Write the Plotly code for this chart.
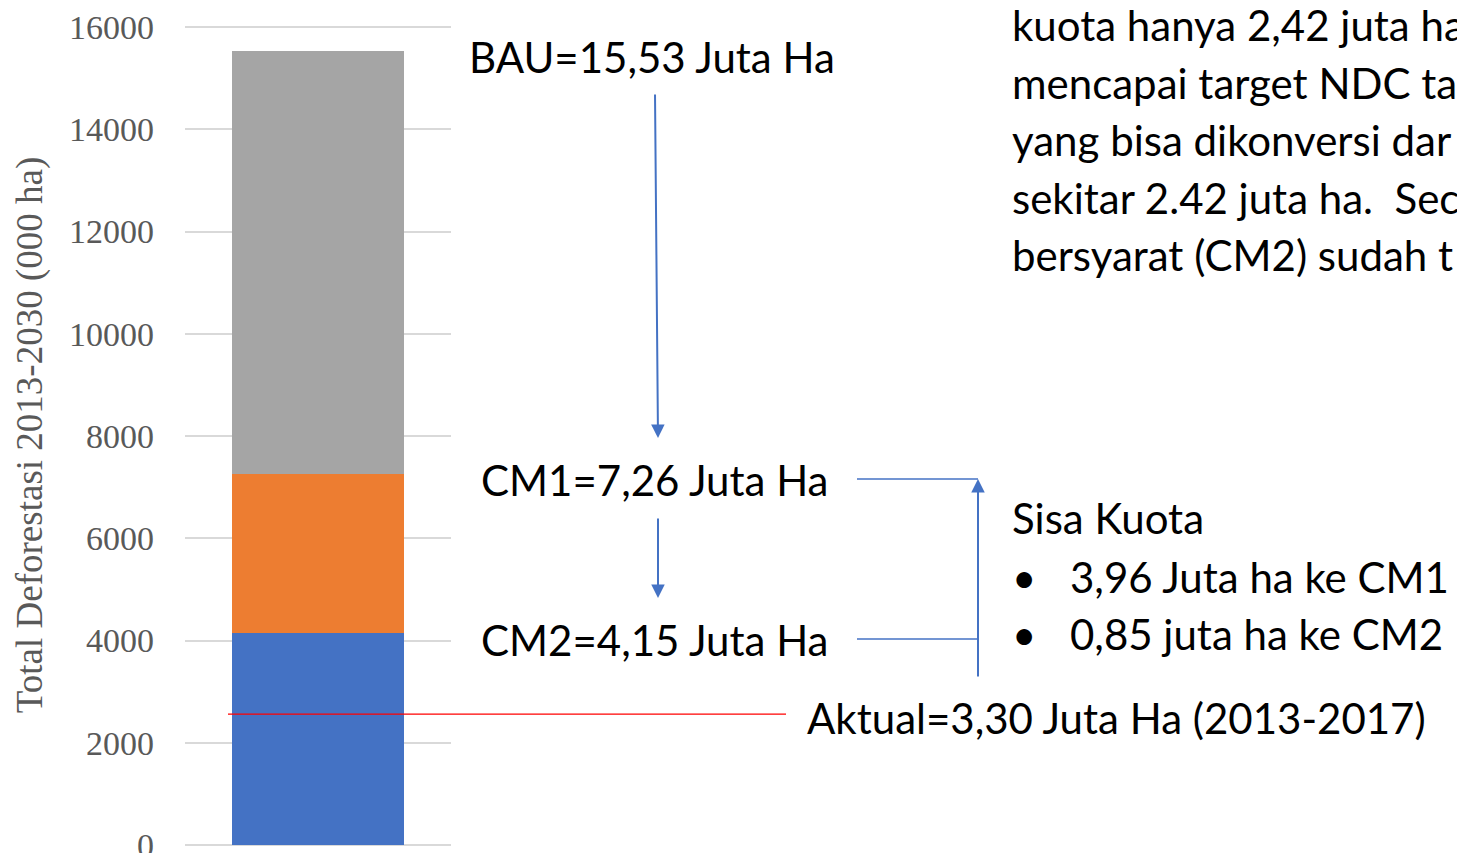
import plotly.graph_objects as go

# Data (000 ha)
SCENARIOS = ['CM2', 'CM1', 'BAU']
TOTALS = [4150, 7260, 15530]
COLORS = ['#4472C4', '#ED7D31', '#A5A5A5']
ACTUAL_LINE = 2560
Y_TICKS = [0, 2000, 4000, 6000, 8000, 10000, 12000, 14000, 16000]

LABELS = ['BAU=15,53 Juta Ha', 'CM1=7,26 Juta Ha', 'CM2=4,15 Juta Ha']
ACTUAL_LABEL = 'Aktual=3,30 Juta Ha (2013-2017)'
QUOTA_TITLE = 'Sisa Kuota'
QUOTA_ITEMS = ['3,96 Juta ha ke CM1', '0,85 juta ha ke CM2']
NOTE_LINES = [
    'kuota hanya 2,42 juta ha',
    'mencapai target NDC ta',
    'yang bisa dikonversi dar',
    'sekitar 2.42 juta ha.  Sec',
    'bersyarat (CM2) sudah t',
]

# page offset (body margin) and figure size
OFF = 8
W, H = 1465 - OFF, 853 - OFF
# plot box in page pixels
L, R, T, B = 185, 451, 27, 845
Y_MAX = 16040
T_EXT = T - (Y_MAX - 16000) * (B - T) / 16000

TEXT_FONT = dict(family='Lato, Open Sans, sans-serif', size=42, color='#000000')
SERIF = 'Liberation Serif, Times New Roman, serif'
BLUE = '#4472C4'


def px(x):
    return (x - L) / (R - L)


def py(y):
    return (B - y) / (B - T_EXT)


fig = go.Figure()
base = 0
for name, total, color in zip(SCENARIOS, TOTALS, COLORS):
    fig.add_trace(go.Bar(
        x=[''], y=[total - base], base=base, name=name,
        marker_color=color, marker_line_width=0, showlegend=False,
    ))
    base = total

annotations = []
# scenario labels
for text, (cx, cy) in zip(LABELS, [(652, 57), (655, 480), (655, 640)]):
    annotations.append(dict(x=px(cx), y=py(cy), xref='paper', yref='paper', text=text,
                            showarrow=False, xanchor='center', yanchor='middle', font=TEXT_FONT))

# arrows (head position, tail offset)
for hx, hy, ax, ay in [(658, 438, -3, -345), (658, 598, 0, -81), (978, 479, 0, 199)]:
    annotations.append(dict(x=px(hx), y=py(hy), xref='paper', yref='paper', text='',
                            showarrow=True, ax=ax, ay=ay, axref='pixel', ayref='pixel',
                            arrowhead=2, arrowsize=1.35, arrowwidth=2, arrowcolor=BLUE))

annotations.append(dict(x=px(1010), y=py(518), xref='paper', yref='paper', text=QUOTA_TITLE,
                        showarrow=False, xanchor='left', yanchor='middle', font=TEXT_FONT))
for item, cy in zip(QUOTA_ITEMS, [577, 634]):
    annotations.append(dict(x=px(1010), y=py(cy), xref='paper', yref='paper', text='•',
                            showarrow=False, xanchor='left', yanchor='middle', font=TEXT_FONT))
    annotations.append(dict(x=px(1068), y=py(cy), xref='paper', yref='paper', text=item,
                            showarrow=False, xanchor='left', yanchor='middle', font=TEXT_FONT))

annotations.append(dict(x=px(805), y=py(718), xref='paper', yref='paper', text=ACTUAL_LABEL,
                        showarrow=False, xanchor='left', yanchor='middle', font=TEXT_FONT))

for line, cy in zip(NOTE_LINES, [25, 83, 140, 198, 255]):
    annotations.append(dict(x=px(1010), y=py(cy), xref='paper', yref='paper', text=line,
                            showarrow=False, xanchor='left', yanchor='middle', font=TEXT_FONT))

shapes = [
    # connectors to the quota arrow
    dict(type='line', xref='paper', yref='paper', x0=px(857), x1=px(978), y0=py(479), y1=py(479),
         line=dict(color=BLUE, width=1.5)),
    dict(type='line', xref='paper', yref='paper', x0=px(857), x1=px(978), y0=py(639), y1=py(639),
         line=dict(color=BLUE, width=1.5)),
    # actual deforestation line
    dict(type='line', xref='paper', yref='y', x0=px(228), x1=px(786), y0=ACTUAL_LINE, y1=ACTUAL_LINE,
         line=dict(color='#FF0000', width=1.2), layer='above'),
]

fig.update_layout(
    width=W, height=H,
    margin=dict(l=L - OFF, r=W - (R - OFF), t=T_EXT - OFF, b=H - (B - OFF)),
    paper_bgcolor='white', plot_bgcolor='white',
    barmode='stack', bargap=0.353,
    annotations=annotations, shapes=shapes,
    showlegend=False,
    xaxis=dict(showticklabels=False, showgrid=False, zeroline=False, showline=False,
               fixedrange=True, automargin=False),
    yaxis=dict(
        range=[0, Y_MAX], tickvals=Y_TICKS, ticktext=[str(v) for v in Y_TICKS],
        showgrid=True, gridcolor='#D9D9D9', gridwidth=2,
        zeroline=True, zerolinecolor='#D9D9D9', zerolinewidth=2,
        showline=False, ticks='', ticklabelstandoff=30, ticklabeloverflow='allow',
        automargin=False,
        tickfont=dict(family=SERIF, size=34, color='#595959'),
        title=dict(text='Total Deforestasi 2013-2030 (000 ha)',
                   font=dict(family=SERIF, size=37, color='#595959')),
    ),
)

fig.write_html("out.html")
